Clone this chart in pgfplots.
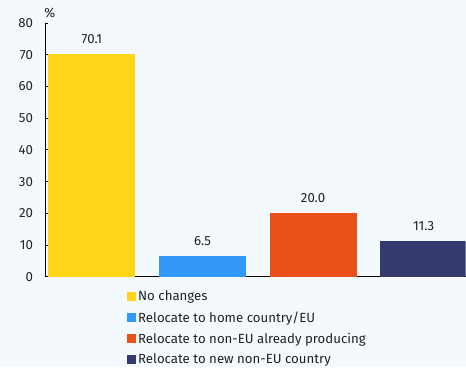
\documentclass[border=0pt]{standalone}
\usepackage{pgfplots}
\pgfplotsset{compat=1.18}
\usepackage{fontspec}
\setmainfont{Fira Sans}
\definecolor{bg}{HTML}{F4F9FD}
\definecolor{cyel}{HTML}{FFD617}
\definecolor{cblu}{HTML}{3399F8}
\definecolor{cora}{HTML}{E8521A}
\definecolor{cnav}{HTML}{343A70}
\definecolor{txt}{HTML}{222222}
\begin{document}
\begin{tikzpicture}[x=1bp,y=1bp]
\fill[bg] (0,0) rectangle (466,367);
\begin{axis}[
  at={(45bp,90bp)}, anchor=south west,
  scale only axis, width=421bp, height=254bp,
  xmin=-0.425, xmax=3.38, ymin=0, ymax=80,
  axis x line*=bottom, axis y line*=left,
  axis line style={black, line width=0.8pt},
  ytick={0,10,...,80}, xtick=\empty,
  y tick style={black, line width=0.8pt}, major tick length=3bp,
  tick align=inside,
  ticklabel style={font=\fontsize{13.3}{15}\selectfont, text=txt},
  yticklabel style={xshift=-8.5bp},
  /pgf/number format/assume math mode=true,
  ybar, bar width=87bp, bar shift=0pt,
  nodes near coords,
  nodes near coords style={font=\fontsize{13.3}{15}\selectfont, text=txt, anchor=south, yshift=7bp, /pgf/number format/.cd, fixed, fixed zerofill, precision=1, assume math mode=true},
  legend style={at={(rel axis cs:0.195,-0.047)}, anchor=north west, draw=none, fill=none, font=\fontsize{13.3}{15}\selectfont, text=txt, row sep=5.2bp, inner sep=0pt, cells={anchor=west}},
  legend cell align=left,
  legend image code/.code={\fill[#1] (0bp,-4.5bp) rectangle (9bp,4.5bp);},
  clip=true,
]
\addplot[fill=cyel, draw=none] coordinates {(0,70.1)};
\addplot[fill=cblu, draw=none] coordinates {(1,6.5)};
\addplot[fill=cora, draw=none] coordinates {(2,20.0)};
\addplot[fill=cnav, draw=none] coordinates {(3,11.3)};
\legend{No changes, Relocate to home country/EU, Relocate to non-EU already producing, Relocate to new non-EU country}
\end{axis}
\node[font=\fontsize{13.3}{15}\selectfont, text=txt] at (50,354) {\%};
\end{tikzpicture}
\end{document}
